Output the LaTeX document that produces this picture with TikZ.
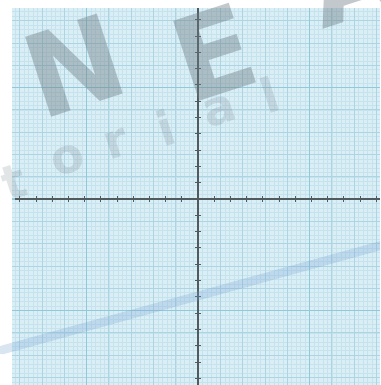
\documentclass[tikz,border=0pt]{standalone}
\usepackage{fontspec}
\setsansfont{DejaVu Sans}
\usetikzlibrary{positioning}
\definecolor{paper}{RGB}{218,238,245}
\definecolor{gridminor}{RGB}{198,226,237}
\definecolor{gridmid}{RGB}{172,212,227}
\definecolor{gridmajor}{RGB}{145,200,218}
\definecolor{axiscol}{RGB}{80,90,95}
\definecolor{markgray}{RGB}{110,125,132}
\definecolor{markblue}{RGB}{120,165,210}

\begin{document}
\begin{tikzpicture}[x=0.025cm,y=-0.025cm,
  minorline/.style={draw=gridminor,line width=0.25pt},
  midline/.style={draw=gridmid,line width=0.5pt},
  majorline/.style={draw=gridmajor,line width=1pt},
  axisline/.style={draw=axiscol,line width=0.8pt},
  tick/.style={draw=axiscol,line width=0.7pt},
  bigmark/.style={text=markgray,opacity=0.42,font=\sffamily\bfseries\fontsize{82}{82}\selectfont,rotate=18,inner sep=0pt},
  smallmark/.style={text=markgray,opacity=0.2,font=\sffamily\bfseries\fontsize{34}{34}\selectfont,rotate=18,inner sep=0pt}]
\useasboundingbox (0,0) rectangle (380,385);
%
\fill[paper] (12,8) rectangle (380,385);
\begin{scope}
\clip (12,8) rectangle (380,385);
\foreach \i in {-42,...,42} {
  \draw[minorline] ({198+\i*4.46},8) -- ++(0,377);
  \draw[minorline] (12,{199+\i*4.46}) -- ++(368,0);
}
\foreach \i in {-8,...,8} {
  \draw[midline] ({198+\i*22.3},8) -- ++(0,377);
  \draw[midline] (12,{199+\i*22.3}) -- ++(368,0);
}
\foreach \i in {-2,...,2} {
  \draw[majorline] ({198+\i*111.5},8) -- ++(0,377);
  \draw[majorline] (12,{199+\i*111.5}) -- ++(368,0);
}
\end{scope}
%
\coordinate (xl) at (15,199);
\coordinate (xr) at (380,199);
\coordinate (yt) at (198,8);
\coordinate (yb) at (198,385);
\draw[axisline] (xl) -- (xr);
\draw[axisline] (yt) -- (yb);
\foreach \i in {-11,...,11} {
  \draw[tick] ({198+\i*16.2},196) -- ++(0,6);
  \draw[tick] (195,{199+\i*16.3}) -- ++(6,0);
}
%
\begin{scope}
\clip (0,0) rectangle (380,385);
\draw[markblue,opacity=0.28,line width=0.22cm,line cap=round] (2,350) -- (390,243);
\node[bigmark] (n) at (74,66) {N};
\node[bigmark] (e) at (214,52) {E};
\node[bigmark] (a) at (352,-24) {A};
\node[smallmark] (t) at (14,182) {t};
\node[smallmark] (o) at (68,160) {o};
\node[smallmark] (r) at (117,144) {r};
\node[smallmark] (i) at (166,128) {i};
\node[smallmark] (al) at (220,111) {a};
\node[smallmark] (l) at (270,95) {l};
\end{scope}
%
\end{tikzpicture}
\end{document}
